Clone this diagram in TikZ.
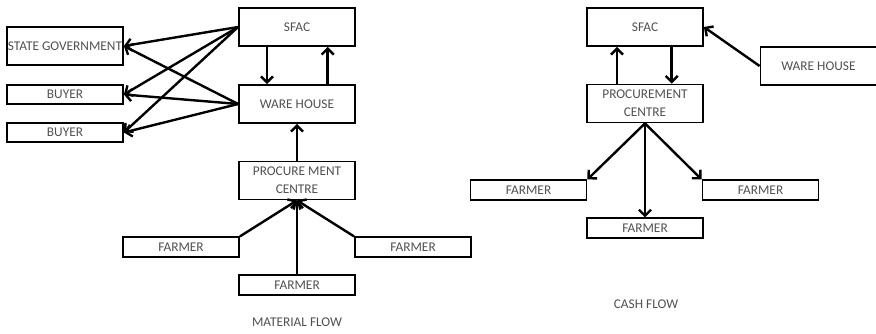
\documentclass[tikz,border=0pt]{standalone}
\usepackage{fontspec}
\setmainfont{Carlito}
\usepackage{xcolor}
\usetikzlibrary{arrows.meta}

\definecolor{boxtext}{HTML}{505050}

\begin{document}
\begin{tikzpicture}[
  x=0.75pt, y=-0.75pt,
  box/.style={rectangle,draw,line width=1.35pt,minimum width=87pt,inner sep=1pt,
    align=center,text=boxtext,font=\fontsize{10}{13.5}\selectfont},
  tall/.style={box,minimum height=28.5pt},
  flat/.style={box,minimum height=14.5pt},
  caption/.style={text=boxtext,font=\fontsize{10}{13.5}\selectfont},
  flow/.style={draw,line width=1.8pt,-{Straight Barb[length=4.5pt,width=9pt]}} % <-- arrow style
]
\useasboundingbox (0,0) rectangle (876,334);

% material flow
\node[tall] (sfacM) at (297,27) {SFAC};
\node[tall] (wareM) at (297,104) {WARE HOUSE};
\node[tall] (procM) at (297,180.5) {PROCURE MENT\\CENTRE};
\node[tall,inner sep=0pt] (stateGov) at (65,46) {STATE GOVERNMENT};
\node[flat] (buyerA) at (65,94.5) {BUYER};
\node[flat] (buyerB) at (65,132.5) {BUYER};
\node[flat] (farmerL) at (181,247) {FARMER};
\node[flat] (farmerR) at (413,247) {FARMER};
\node[flat] (farmerB) at (297,285) {FARMER};
\node[caption] (matLabel) at (297,322) {MATERIAL FLOW};

\draw[flow] (sfacM.west) -- (stateGov.east);
\draw[flow] (sfacM.west) -- (buyerA.east);
\draw[flow] (sfacM.west) -- (buyerB.east);
\draw[flow] (wareM.west) -- (stateGov.east);
\draw[flow] (wareM.west) -- (buyerA.east);
\draw[flow] (wareM.west) -- (buyerB.east);
\draw[flow] ([xshift=-22.5pt]sfacM.south) -- ([xshift=-22.5pt]wareM.north);
\draw[flow] ([xshift=23pt]wareM.north) -- ([xshift=23pt]sfacM.south);
\draw[flow] (procM.north) -- (wareM.south);
\draw[flow] (farmerL.north east) -- (procM.south);
\draw[flow] (farmerR.north west) -- (procM.south);
\draw[flow] (farmerB.north) -- (procM.south);

% cash flow
\node[tall] (sfacC) at (645,27) {SFAC};
\node[tall] (wareC) at (818.5,66) {WARE HOUSE};
\node[tall] (procC) at (645,103.5) {PROCUREMENT\\CENTRE};
\node[flat] (farmerCL) at (528.5,190) {FARMER};
\node[flat] (farmerCR) at (760.5,190) {FARMER};
\node[flat] (farmerCB) at (645,228) {FARMER};
\node[caption] (cashLabel) at (646,304) {CASH FLOW};

\draw[flow] ([xshift=-21pt]procC.north) -- ([xshift=-21pt]sfacC.south);
\draw[flow] ([xshift=20pt]sfacC.south) -- ([xshift=20pt]procC.north);
\draw[flow] (wareC.west) -- (sfacC.east);
\draw[flow] (procC.south) -- (farmerCL.north east);
\draw[flow] (procC.south) -- (farmerCB.north);
\draw[flow] (procC.south) -- (farmerCR.north west);
\end{tikzpicture}
\end{document}
